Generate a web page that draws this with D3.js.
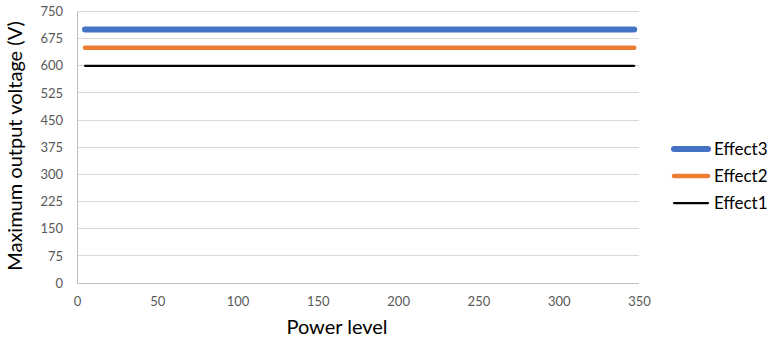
<!DOCTYPE html>
<html>
<head>
<meta charset="utf-8">
<script src="https://cdn.jsdelivr.net/npm/d3@7"></script>
<style>
  html, body { margin: 0; padding: 0; background: #fff; }
  svg { display: block; }
</style>
</head>
<body>
<svg id="chart" width="779" height="342"></svg>
<script>
// Power levels at which each effect was sampled
const powerLevels = [5, 347];
// Maximum output voltage per effect (V)
const effect1 = [600, 600];
const effect2 = [650, 650];
const effect3 = [700, 700];
const seriesNames = ["Effect3", "Effect2", "Effect1"];
const yTicks = [0, 75, 150, 225, 300, 375, 450, 525, 600, 675, 750];
const xTicks = [0, 50, 100, 150, 200, 250, 300, 350];

const series = [
  { name: seriesNames[0], values: effect3, color: "#4472c4", width: 6 },
  { name: seriesNames[1], values: effect2, color: "#ed7d31", width: 4.5 },
  { name: seriesNames[2], values: effect1, color: "#000000", width: 2.25 }
];

const svg = d3.select("#chart");
const font = "Lato, 'Open Sans', sans-serif";

const x = d3.scaleLinear().domain([0, 350]).range([77, 639]);
const y = d3.scaleLinear().domain([0, 750]).range([283, 11.5]);

// Horizontal gridlines
svg.append("g")
  .selectAll("line")
  .data(yTicks)
  .join("line")
  .attr("x1", x(0)).attr("x2", x(350))
  .attr("y1", d => y(d)).attr("y2", d => y(d))
  .attr("stroke", d => d === 0 ? "#bfbfbf" : "#d9d9d9")
  .attr("stroke-width", 1)
  .attr("shape-rendering", "crispEdges");

// Left axis line
svg.append("line")
  .attr("x1", x(0)).attr("x2", x(0))
  .attr("y1", y(0)).attr("y2", y(750))
  .attr("stroke", "#bfbfbf")
  .attr("shape-rendering", "crispEdges");

// Y tick labels
const yAxis = d3.axisLeft(y).tickValues(yTicks).tickSize(0).tickPadding(14);
const gy = svg.append("g").attr("transform", `translate(${x(0)},0)`).call(yAxis);
gy.select(".domain").remove();
gy.selectAll("text").attr("font-family", font).attr("font-size", 13).attr("fill", "#595959");

// X tick labels
const xAxis = d3.axisBottom(x).tickValues(xTicks).tickSize(0).tickPadding(14);
const gx = svg.append("g").attr("transform", `translate(0,${y(0)})`).call(xAxis);
gx.select(".domain").remove();
gx.selectAll("text").attr("font-family", font).attr("font-size", 13).attr("fill", "#595959");

// Series lines
const line = d3.line()
  .x((d, i) => x(powerLevels[i]))
  .y(d => y(d));

svg.append("g")
  .selectAll("path")
  .data(series.slice().reverse())
  .join("path")
  .attr("d", d => line(d.values))
  .attr("fill", "none")
  .attr("stroke", d => d.color)
  .attr("stroke-width", d => d.width)
  .attr("stroke-linecap", "round");

// Axis titles
svg.append("text")
  .attr("transform", "translate(22,146) rotate(-90)")
  .attr("text-anchor", "middle")
  .attr("font-family", font)
  .attr("font-size", 20)
  .attr("fill", "#000")
  .text("Maximum output voltage (V)");

svg.append("text")
  .attr("x", 337).attr("y", 334)
  .attr("text-anchor", "middle")
  .attr("font-family", font)
  .attr("font-size", 20)
  .attr("fill", "#000")
  .text("Power level");

// Legend
const legend = svg.append("g")
  .selectAll("g")
  .data(series)
  .join("g")
  .attr("transform", (d, i) => `translate(673,${149 + i * 27})`);

legend.append("line")
  .attr("x1", 1).attr("x2", 35)
  .attr("y1", 0).attr("y2", 0)
  .attr("stroke", d => d.color)
  .attr("stroke-width", d => d.width)
  .attr("stroke-linecap", "round");

legend.append("text")
  .attr("x", 41).attr("y", 6)
  .attr("font-family", font)
  .attr("font-size", 17)
  .attr("fill", "#000")
  .text(d => d.name);
</script>
</body>
</html>
